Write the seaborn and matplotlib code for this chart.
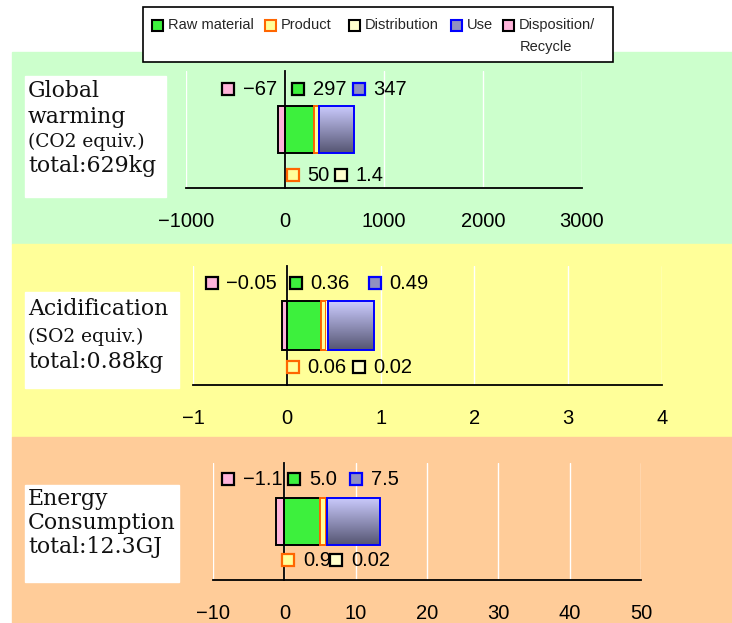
import numpy as np
import matplotlib
matplotlib.use("Agg")
import matplotlib.pyplot as plt
from matplotlib.patches import Rectangle
from matplotlib.colors import LinearSegmentedColormap
from matplotlib.transforms import ScaledTranslation, blended_transform_factory
import seaborn as sns

# -------------------------------
# DATA
# -------------------------------
stages = ["Raw material", "Product", "Distribution", "Use", "Disposition/\nRecycle"]

gw_values = [297, 50, 1.4, 347, -67]
acid_values = [0.36, 0.06, 0.02, 0.49, -0.05]
energy_values = [5.0, 0.9, 0.02, 7.5, -1.1]

gw_labels = ["297", "50", "1.4", "347", "\u221267"]
acid_labels = ["0.36", "0.06", "0.02", "0.49", "\u22120.05"]
energy_labels = ["5.0", "0.9", "0.02", "7.5", "\u22121.1"]

gw_ticks = [-1000, 0, 1000, 2000, 3000]
acid_ticks = [-1, 0, 1, 2, 3, 4]
energy_ticks = [-10, 0, 10, 20, 30, 40, 50]

gw_title = ["Global", "warming", "(CO2 equiv.)", "total:629kg"]
acid_title = ["Acidification", "(SO2 equiv.)", "total:0.88kg"]
energy_title = ["Energy", "Consumption", "total:12.3GJ"]

# -------------------------------
# STYLE
# -------------------------------
faces = ["#3DF03D", "#FFFF99", "#FFFFCC", "#9090C0", "#FFB4DA"]
edges = ["black", "#FF6600", "black", "#0000FF", "black"]
use_cmap = LinearSegmentedColormap.from_list("use", ["#CCCCFF", "#555572"])

sns.set_style("white")
plt.rcParams["font.family"] = ["Liberation Sans", "DejaVu Sans"]

W, H = 732, 623
fig = plt.figure(figsize=(W / 100, H / 100), dpi=100)


def fx(x):
    return x / W


def fy(y):
    return 1 - y / H


# layout of each panel, in pixels
panels = [
    dict(values=gw_values, labels=gw_labels, ticks=gw_ticks, title=gw_title,
         band=(52, 244, "#CCFFCC"), ax=(186, 71, 582, 188), box=(25, 76, 166, 197),
         baselines=[97, 123, 147, 172], sizes=[15.8, 15.8, 13.4, 15.8],
         label_dx=[13, 8, 56, 74, -57], label_y=(0.846, 0.11)),
    dict(values=acid_values, labels=acid_labels, ticks=acid_ticks, title=acid_title,
         band=(244, 437, "#FFFF99"), ax=(193, 266, 662, 385), box=(25, 292, 179, 388),
         baselines=[315, 342, 368], sizes=[15.8, 13.4, 15.8],
         label_dx=[9, 6, 72, 88, -75], label_y=(0.857, 0.15)),
    dict(values=energy_values, labels=energy_labels, ticks=energy_ticks, title=energy_title,
         band=(437, 623, "#FFCC99"), ax=(213, 463, 641, 580), box=(25, 485, 179, 582),
         baselines=[505, 529, 553], sizes=[15.8, 15.8, 15.8],
         label_dx=[10, 4, 52, 72, -56], label_y=(0.86, 0.17)),
]

for p in panels:
    # background band and white title box
    y0, y1, col = p["band"]
    fig.patches.append(Rectangle((fx(12), fy(y1)), fx(W) - fx(12), fy(y0) - fy(y1),
                                 transform=fig.transFigure, color=col, zorder=-2))
    bx0, by0, bx1, by1 = p["box"]
    fig.patches.append(Rectangle((fx(bx0), fy(by1)), fx(bx1) - fx(bx0), fy(by0) - fy(by1),
                                 transform=fig.transFigure, color="white", zorder=-1))
    for line, base, size in zip(p["title"], p["baselines"], p["sizes"]):
        fig.text(fx(28), fy(base), line, fontsize=size, family="DejaVu Serif",
                 va="baseline", ha="left", color="#111111")

    ax0, ay0, ax1, ay1 = p["ax"]
    ax = fig.add_axes([fx(ax0), fy(ay1), fx(ax1) - fx(ax0), fy(ay0) - fy(ay1)])
    ax.set_zorder(2)
    ax.patch.set_alpha(0)

    vals = p["values"]
    pos = vals[:4]
    lefts = np.concatenate([[0], np.cumsum(pos)[:-1]])
    for i in range(4):
        bar = ax.barh(0.5, pos[i], left=lefts[i], height=0.41,
                      color=faces[i] if i != 3 else "none",
                      edgecolor=edges[i] if i != 2 else "none",
                      linewidth=1.4, zorder=3)[0]
        if i == 3:
            grad = np.linspace(0, 1, 256).reshape(-1, 1)
            im = ax.imshow(grad, cmap=use_cmap, aspect="auto", origin="upper",
                           extent=(lefts[i], lefts[i] + pos[i], 0.295, 0.705), zorder=2)
            im.set_clip_path(bar)
    ax.barh(0.5, vals[4], left=0, height=0.41, facecolor=faces[4], edgecolor=edges[4],
            linewidth=1.4, zorder=3)

    ticks = p["ticks"]
    ax.set_xlim(ticks[0], ticks[-1])
    ax.set_ylim(0, 1)
    ax.set_aspect("auto")
    ax.set_xticks(ticks)
    ax.set_xticklabels([str(t).replace("-", "\u2212") for t in ticks])
    ax.set_yticks([1])
    ax.set_yticklabels([])
    ax.tick_params(axis="x", direction="in", length=5, width=1, pad=17,
                   labelsize=14.5, colors="black")
    ax.tick_params(axis="y", direction="in", length=4, width=1)
    ax.grid(axis="x", color="white", linewidth=1, zorder=1)
    ax.grid(axis="y", visible=False)
    for s in ["top", "right"]:
        ax.spines[s].set_visible(False)
    ax.spines["left"].set_position(("data", 0))
    for s in ["left", "bottom"]:
        ax.spines[s].set_color("black")
        ax.spines[s].set_linewidth(1.3)
        ax.spines[s].set_zorder(4)

    # value labels with small keys
    trans = blended_transform_factory(ax.transData, ax.transAxes)
    top_y, bot_y = p["label_y"]
    rows = [top_y, bot_y, bot_y, top_y, top_y]
    for i in range(5):
        off = ScaledTranslation(p["label_dx"][i] / 100, 0, fig.dpi_scale_trans)
        ax.plot([0], [rows[i]], marker="s", markersize=8.3, markerfacecolor=faces[i],
                markeredgecolor=edges[i], markeredgewidth=1.6, transform=trans + off,
                clip_on=False, zorder=5)
        off_t = ScaledTranslation((p["label_dx"][i] + 14.5) / 100, 0, fig.dpi_scale_trans)
        ax.text(0, rows[i], p["labels"][i], transform=trans + off_t, fontsize=14.5,
                va="center", ha="left", color="black", zorder=5)

# -------------------------------
# LEGEND
# -------------------------------
fig.patches.append(Rectangle((fx(143), fy(62)), fx(613) - fx(143), fy(7) - fy(62),
                             transform=fig.transFigure, facecolor="white",
                             edgecolor="black", linewidth=1.2, zorder=5))
key_x = [157.5, 270.5, 354.5, 456.5, 508.5]
for i, name in enumerate(stages):
    fig.patches.append(Rectangle((fx(key_x[i] - 5.5), fy(30.5)), fx(11), fy(0) - fy(11),
                                 transform=fig.transFigure, facecolor=faces[i],
                                 edgecolor=edges[i], linewidth=1.5, zorder=6))
    parts = name.split("\n")
    fig.text(fx(key_x[i] + 10.5), fy(25), parts[0], fontsize=10.5, va="center",
             ha="left", zorder=7)
    if len(parts) > 1:
        fig.text(fx(key_x[i] + 11.5), fy(47), parts[1], fontsize=10.5, va="center",
                 ha="left", zorder=7)

fig.savefig("out.png", dpi=100)
